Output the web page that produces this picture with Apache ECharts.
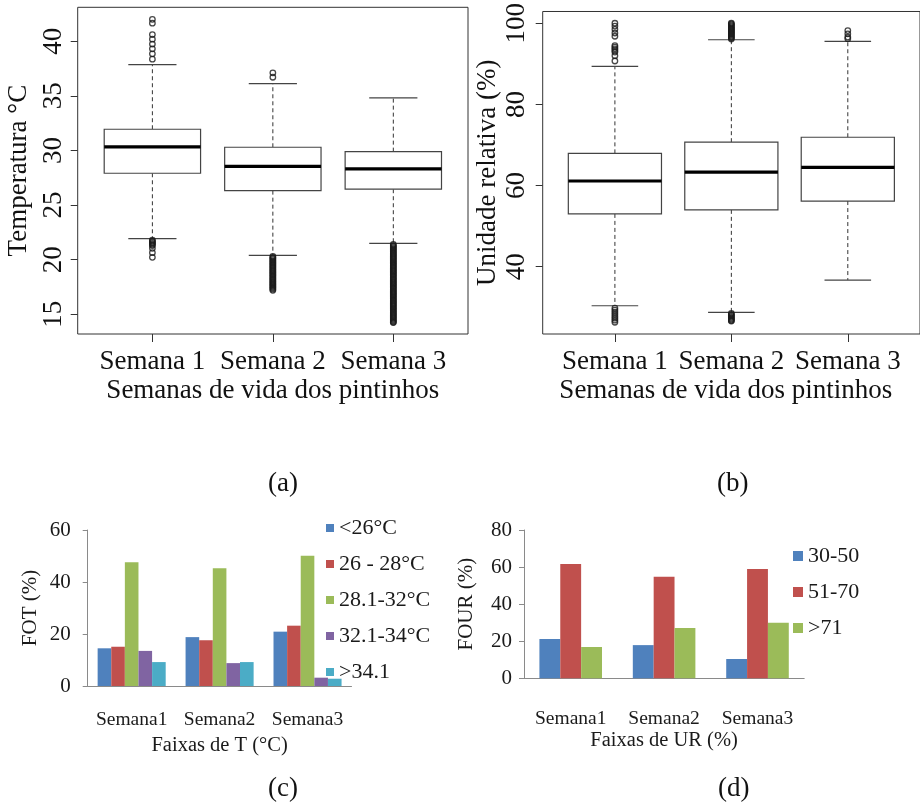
<!DOCTYPE html>
<html>
<head>
<meta charset="utf-8">
<script src="https://cdn.jsdelivr.net/npm/echarts@6/dist/echarts.min.js"></script>
<style>html,body{margin:0;padding:0;background:#fff}#c{width:920px;height:807px}</style>
</head>
<body>
<div id="c"></div>
<script>
// ---------- data ----------
const boxCats = ['Semana 1', 'Semana 2', 'Semana 3'];
const tempTicks = [15, 20, 25, 30, 35, 40];
const rhTicks = [40, 60, 80, 100];
// [lower whisker, Q1, median, Q3, upper whisker]
const tempStats = [
  [21.92, 27.91, 30.32, 31.94, 37.86],
  [20.40, 26.32, 28.55, 30.29, 36.12],
  [21.50, 26.45, 28.31, 29.89, 34.81]
];
const rhStats = [
  [30.36, 53.00, 61.11, 67.93, 89.36],
  [28.73, 54.00, 63.30, 70.68, 95.93],
  [36.70, 56.17, 64.45, 71.90, 95.52]
];
const tempOut1 = [42.0, 41.65, 40.6, 40.18, 39.73, 39.3, 38.84, 38.35, 21.8, 21.7, 21.6, 21.5, 21.4, 21.3, 21.04, 20.64, 20.22];
const tempOut2 = [37.1, 36.7, 20.3, 20.2, 20.1, 20.0, 19.9, 19.8, 19.7, 19.6, 19.5, 19.4, 19.3, 19.2, 19.1, 19.0, 18.9, 18.8, 18.7, 18.6, 18.5, 18.4, 18.3, 18.2, 18.1, 18.0, 17.9, 17.8, 17.7, 17.6, 17.5, 17.4, 17.3, 17.2];
const tempOut3 = [21.4, 21.3, 21.2, 21.1, 21.0, 20.9, 20.8, 20.7, 20.6, 20.5, 20.4, 20.3, 20.2, 20.1, 20.0, 19.9, 19.8, 19.7, 19.6, 19.5, 19.4, 19.3, 19.2, 19.1, 19.0, 18.9, 18.8, 18.7, 18.6, 18.5, 18.4, 18.3, 18.2, 18.1, 18.0, 17.9, 17.8, 17.7, 17.6, 17.5, 17.4, 17.3, 17.2, 17.1, 17.0, 16.9, 16.8, 16.7, 16.6, 16.5, 16.4, 16.3, 16.2, 16.1, 16.0, 15.9, 15.8, 15.7, 15.6, 15.5, 15.4, 15.3, 15.2, 15.1, 15.0, 14.9, 14.8, 14.7, 14.6, 14.5, 14.4, 14.3, 14.25];
const rhOut1 = [100.0, 99.3, 98.5, 97.6, 96.8, 94.5, 94.1, 93.7, 93.3, 92.9, 92.0, 90.7, 29.8, 29.3, 28.8, 28.3, 27.8, 27.3, 26.8, 26.3];
const rhOut2 = [96.1, 96.35, 96.6, 96.85, 97.1, 97.35, 97.6, 97.85, 98.1, 98.35, 98.6, 98.85, 99.1, 99.35, 99.6, 99.85, 100.0, 28.5, 28.25, 28.0, 27.75, 27.5, 27.25, 27.0, 26.75, 26.6];
const rhOut3 = [98.2, 97.4, 96.6, 96.2];

const barCats = ['Semana1', 'Semana2', 'Semana3'];
const tNames = ['<26°C', '26 - 28°C', '28.1-32°C', '32.1-34°C', '>34.1'];
const tVals = [
  [14.5, 18.8, 20.9],
  [15.1, 17.6, 23.2],
  [47.6, 45.3, 50.1],
  [13.5, 8.8, 3.2],
  [9.2, 9.2, 2.8]
];
const urNames = ['30-50', '51-70', '>71'];
const urVals = [
  [21.2, 17.9, 10.4],
  [61.6, 54.8, 58.9],
  [16.9, 27.1, 30.0]
];
const excelColors = ['#4F81BD', '#C0504D', '#9BBB59', '#8064A2', '#4BACC6'];

// ---------- helpers ----------
const SERIF = "'Liberation Serif', 'DejaVu Serif', serif";
const txt = (size, color) => ({ fontFamily: SERIF, fontSize: size, color: color || '#111' });

function renderBox(params, api) {
  const x = api.value(0);
  const pMin = api.coord([x, api.value(1)]);
  const pQ1 = api.coord([x, api.value(2)]);
  const pMed = api.coord([x, api.value(3)]);
  const pQ3 = api.coord([x, api.value(4)]);
  const pMax = api.coord([x, api.value(5)]);
  const w = api.size([0.8, 0])[0];
  const cx = pMed[0];
  const dash = { stroke: '#333', lineWidth: 1, lineDash: [4, 3] };
  const solid = { stroke: '#444', lineWidth: 1.2 };
  return {
    type: 'group',
    children: [
      { type: 'line', shape: { x1: cx, y1: pQ3[1], x2: cx, y2: pMax[1] }, style: dash },
      { type: 'line', shape: { x1: cx, y1: pQ1[1], x2: cx, y2: pMin[1] }, style: dash },
      { type: 'line', shape: { x1: cx - w / 4, y1: pMax[1], x2: cx + w / 4, y2: pMax[1] }, style: solid },
      { type: 'line', shape: { x1: cx - w / 4, y1: pMin[1], x2: cx + w / 4, y2: pMin[1] }, style: solid },
      { type: 'rect', shape: { x: cx - w / 2, y: pQ3[1], width: w, height: pQ1[1] - pQ3[1] }, style: { fill: '#fff', stroke: '#444', lineWidth: 1.2 } },
      { type: 'line', shape: { x1: cx - w / 2, y1: pMed[1], x2: cx + w / 2, y2: pMed[1] }, style: { stroke: '#000', lineWidth: 3.2 } }
    ]
  };
}
const boxData = stats => stats.map((s, i) => [i + 1].concat(s));
const outData = lists => lists.flatMap((arr, i) => arr.map(v => [i + 1, v]));

function boxXAxis(gridIndex, namePad) {
  return {
    gridIndex, type: 'value', min: 0.38, max: 3.62,
    axisLine: { show: false }, splitLine: { show: false },
    axisTick: { show: true, customValues: [1, 2, 3], length: 8, lineStyle: { color: '#333' } },
    axisLabel: { customValues: [1, 2, 3], formatter: v => boxCats[Math.round(v) - 1], margin: 14, ...txt(27) },
    name: 'Semanas de vida dos pintinhos', nameLocation: 'middle', nameGap: 43,
    nameTextStyle: { ...txt(27), padding: namePad }
  };
}
function boxYAxis(gridIndex, min, max, ticks, name, margin, nameGap) {
  return {
    gridIndex, type: 'value', min, max,
    axisLine: { show: false }, splitLine: { show: false },
    axisTick: { show: true, customValues: ticks, length: 7, lineStyle: { color: '#333' } },
    axisLabel: { customValues: ticks, rotate: 90, margin, ...txt(27) },
    name, nameLocation: 'middle', nameGap, nameTextStyle: txt(27)
  };
}
function barYAxis(gridIndex, max, name, nameGap, margin) {
  return {
    gridIndex, type: 'value', min: 0, max, interval: 20,
    axisLine: { show: true, lineStyle: { color: '#8a8a8a' } },
    axisTick: { show: true, length: 5, lineStyle: { color: '#8a8a8a' } },
    splitLine: { show: false },
    axisLabel: { margin, ...txt(21, '#1a1a1a') },
    name, nameLocation: 'middle', nameGap, nameTextStyle: txt(21, '#1a1a1a')
  };
}
function barXAxis(gridIndex, name, margin, nameGap) {
  return {
    gridIndex, type: 'category', data: barCats,
    axisLine: { show: true, lineStyle: { color: '#8a8a8a' } },
    axisTick: { show: false },
    axisLabel: { interval: 0, hideOverlap: false, margin, ...txt(19.5, '#1a1a1a') },
    name, nameLocation: 'middle', nameGap, nameTextStyle: txt(20.5, '#1a1a1a')
  };
}

const outStyle = { color: 'rgba(0,0,0,0)', borderColor: '#1a1a1a', borderWidth: 1.3 };
const series = [
  { type: 'custom', xAxisIndex: 0, yAxisIndex: 0, renderItem: renderBox, data: boxData(tempStats), encode: { x: 0, y: [1, 2, 3, 4, 5] }, z: 2 },
  { type: 'scatter', xAxisIndex: 0, yAxisIndex: 0, data: outData([tempOut1, tempOut2, tempOut3]), symbol: 'circle', symbolSize: 5.5,
    itemStyle: outStyle, z: 3 },
  { type: 'custom', xAxisIndex: 1, yAxisIndex: 1, renderItem: renderBox, data: boxData(rhStats), encode: { x: 0, y: [1, 2, 3, 4, 5] }, z: 2 },
  { type: 'scatter', xAxisIndex: 1, yAxisIndex: 1, data: outData([rhOut1, rhOut2, rhOut3]), symbol: 'circle', symbolSize: 5.5,
    itemStyle: outStyle, z: 3 }
];
tNames.forEach((n, i) => series.push({
  type: 'bar', name: n, xAxisIndex: 2, yAxisIndex: 2, data: tVals[i],
  barGap: '0%', barCategoryGap: '22.6%', itemStyle: { color: excelColors[i] }
}));
urNames.forEach((n, i) => series.push({
  type: 'bar', name: n, xAxisIndex: 3, yAxisIndex: 3, data: urVals[i],
  barGap: '0%', barCategoryGap: '33%', itemStyle: { color: excelColors[i] }
}));

const panelTitle = (t, left, top) => ({ text: t, left, top, padding: 0, textStyle: { ...txt(27), fontWeight: 'normal' } });

const option = {
  animation: false,
  backgroundColor: '#fff',
  title: [
    panelTitle('(a)', 268, 470),
    panelTitle('(b)', 717, 470),
    panelTitle('(c)', 268, 775),
    panelTitle('(d)', 718, 775)
  ],
  legend: [
    { data: tNames, orient: 'vertical', left: 326, top: 516, icon: 'rect', itemWidth: 8, itemHeight: 8, itemGap: 12,
      textStyle: { ...txt(22, '#1a1a1a'), lineHeight: 24 }, padding: 0, selectedMode: false },
    { data: urNames, orient: 'vertical', left: 793, top: 544, icon: 'rect', itemWidth: 10, itemHeight: 10, itemGap: 12,
      textStyle: { ...txt(22, '#1a1a1a'), lineHeight: 24 }, padding: 0, selectedMode: false }
  ],
  grid: [
    { left: 77.7, top: 7.3, width: 390.3, height: 326.7, show: true, borderColor: '#333', borderWidth: 1, backgroundColor: 'transparent' },
    { left: 542.7, top: 7.3, width: 390.7, height: 326.7, show: true, borderColor: '#333', borderWidth: 1, backgroundColor: 'transparent' },
    { left: 87.7, top: 530, width: 263.8, height: 156 },
    { left: 524, top: 530, width: 280.2, height: 148.3 }
  ],
  xAxis: [
    boxXAxis(0, [0, 0, 0, 0]),
    boxXAxis(1, [0, 11, 0, 0]),
    barXAxis(2, 'Faixas de T (°C)', 24, 49),
    barXAxis(3, 'Faixas de UR (%)', 31, 49)
  ],
  yAxis: [
    boxYAxis(0, 13.2, 43.1, tempTicks, 'Temperatura °C', 10, 45),
    boxYAxis(1, 23.4, 102.9, rhTicks, 'Unidade relativa (%)', 12, 41),
    barYAxis(2, 60, 'FOT (%)', 47, 17),
    barYAxis(3, 80, 'FOUR (%)', 47, 12)
  ],
  series
};
const chart = echarts.init(document.getElementById('c'), null, { renderer: 'canvas' });
chart.setOption(option);
</script>
</body>
</html>
